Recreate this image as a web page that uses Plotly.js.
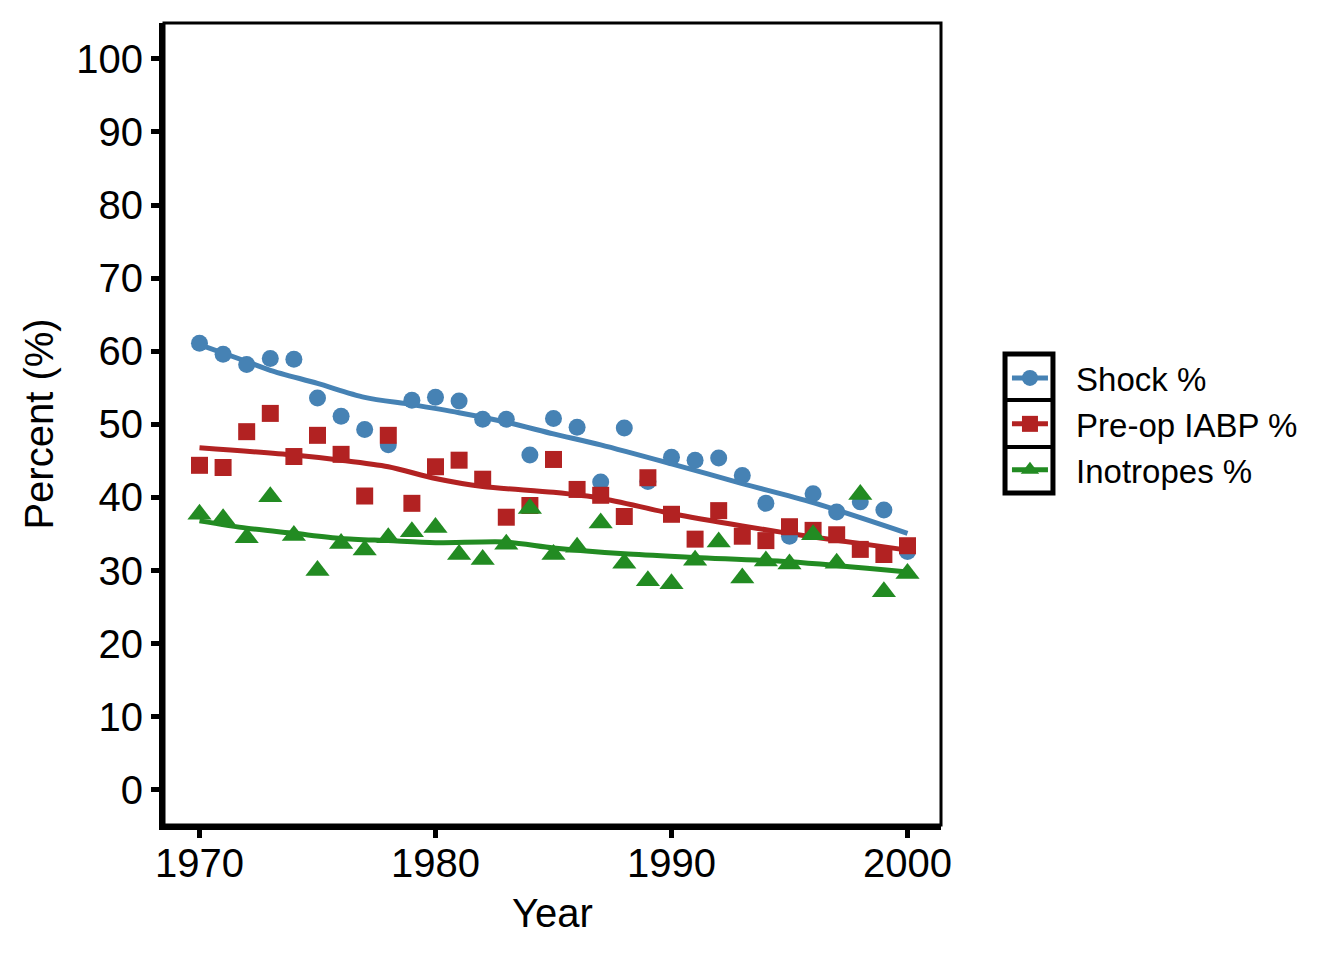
<!DOCTYPE html>
<html>
<head>
<meta charset="utf-8">
<script src="https://cdn.plot.ly/plotly-3.0.1.min.js"></script>
<style>html,body{margin:0;padding:0;background:#fff;}#chart{width:1344px;height:960px;}</style>
</head>
<body>
<div id="chart"></div>
<script>
var years = [1970,1971,1972,1973,1974,1975,1976,1977,1978,1979,1980,1981,1982,1983,1984,1985,1986,1987,1988,1989,1990,1991,1992,1993,1994,1995,1996,1997,1998,1999,2000];
var shock = [61.1,59.6,58.2,59.0,58.9,53.6,51.1,49.3,47.2,53.3,53.7,53.2,50.7,50.7,45.8,50.8,49.6,42.1,49.5,42.2,45.5,45.1,45.4,43.0,39.2,34.7,40.5,38.0,39.4,38.3,32.6];
var iabp = [44.4,44.1,49.0,51.5,45.6,48.5,45.9,40.2,48.5,39.2,44.2,45.1,42.5,37.3,38.9,45.2,41.1,40.3,37.4,42.7,37.7,34.3,38.2,34.7,34.1,36.0,35.5,34.9,32.9,32.2,33.4];
var inotropes = [37.7,37.1,34.5,40.1,34.8,30.0,33.7,32.8,34.5,35.3,35.9,32.2,31.5,33.6,38.5,32.2,33.2,36.5,31.0,28.6,28.2,31.4,33.9,29.0,31.3,30.9,34.9,31.0,40.4,27.1,29.6];

var shockFitYears = [1970,1972,1973,1975,1977,1979,1981,1983,1985,1987,1990,1993,1996,2000];
var shockFit = [60.9,58.6,57.4,55.6,53.7,52.7,51.6,50.3,48.7,47.2,44.6,41.9,39.3,35.1];
var iabpFitYears = [1970,1974,1976,1978,1980,1982,1985,1987,1990,1993,1996,2000];
var iabpFit = [46.8,45.8,45.1,44.2,42.6,41.5,40.7,39.9,37.8,36.1,34.6,32.8];
var inoFitYears = [1970,1972,1974,1976,1978,1980,1983,1985,1988,1991,1995,2000];
var inoFit = [36.8,35.8,35.1,34.4,34.1,33.8,33.9,33.1,32.3,31.8,31.2,29.8];

var seriesNames = ['Shock %','Pre-op IABP %','Inotropes %'];
var xTicks = [1970,1980,1990,2000];
var yTicks = [0,10,20,30,40,50,60,70,80,90,100];

var colors = ['#4682B4','#B22222','#228B22'];
var symbols = ['circle','square','triangle-up'];
var sizes = [17,17,21];
var FONT = 'Liberation Sans, Arial, Helvetica, sans-serif';
var LEGEND_PAD = '\u2002\u2009'; // gap between key box and label

var pts = [shock, iabp, inotropes];
var fitX = [shockFitYears, iabpFitYears, inoFitYears];
var fitY = [shockFit, iabpFit, inoFit];

var traces = [];
for (var i = 0; i < 3; i++) {
  traces.push({x: fitX[i], y: fitY[i], type: 'scatter', mode: 'lines',
    line: {color: colors[i], width: 5, shape: 'spline', smoothing: 0.8},
    showlegend: false, hoverinfo: 'skip'});
}
for (var i = 0; i < 3; i++) {
  traces.push({x: years, y: pts[i], type: 'scatter', mode: 'markers',
    marker: {color: colors[i], symbol: symbols[i], size: sizes[i], line: {width: 0}},
    name: seriesNames[i], showlegend: false});
}
for (var i = 0; i < 3; i++) {
  traces.push({x: [null], y: [null], type: 'scatter', mode: 'lines+markers',
    line: {color: colors[i], width: 5},
    marker: {color: colors[i], symbol: symbols[i], size: sizes[i], line: {width: 0}},
    name: LEGEND_PAD + seriesNames[i], legendgroup: 'g' + i, showlegend: true});
}

// legend key frame (paper coordinates)
var kx0 = 1.0824, kx1 = 1.1441;
var keyEdges = [0.5873, 0.5299, 0.4713, 0.4140];

var layout = {
  width: 1344, height: 960,
  margin: {l: 164, r: 403, t: 23, b: 135},
  paper_bgcolor: '#fff', plot_bgcolor: '#fff',
  font: {family: FONT, color: '#000'},
  showlegend: true,
  legend: {x: 1.0849, xanchor: 'left', y: 0.5, yanchor: 'middle',
    font: {family: FONT, size: 33, color: '#000'},
    traceorder: 'grouped', tracegroupgap: 0,
    itemwidth: 36, bgcolor: 'rgba(0,0,0,0)', borderwidth: 0},
  xaxis: {range: [1968.496, 2001.42], tickvals: xTicks, ticktext: xTicks.map(String),
    ticks: 'outside', ticklen: 8, tickwidth: 5, tickcolor: '#000',
    showline: true, linewidth: 5, linecolor: '#000', mirror: false,
    showgrid: false, zeroline: false, ticklabelstandoff: -9,
    tickfont: {family: FONT, size: 40, color: '#000'},
    title: {text: 'Year', font: {family: FONT, size: 40, color: '#000'}, standoff: 16}},
  yaxis: {range: [-4.8, 104.9], tickvals: yTicks, ticktext: yTicks.map(String),
    ticks: 'outside', ticklen: 8, tickwidth: 5, tickcolor: '#000',
    showline: true, linewidth: 5, linecolor: '#000', mirror: false,
    showgrid: false, zeroline: false,
    tickfont: {family: FONT, size: 40, color: '#000'},
    title: {text: 'Percent (%)', font: {family: FONT, size: 40, color: '#000'}, standoff: 12}},
  shapes: [
    {type: 'rect', xref: 'paper', yref: 'paper', x0: 0, x1: 1, y0: 0, y1: 1,
     line: {color: '#000', width: 3}, layer: 'above'},
    {type: 'rect', xref: 'paper', yref: 'paper', x0: kx0, x1: kx1, y0: keyEdges[3], y1: keyEdges[0],
     line: {color: '#000', width: 5}, layer: 'above'},
    {type: 'line', xref: 'paper', yref: 'paper', x0: kx0, x1: kx1, y0: keyEdges[1], y1: keyEdges[1],
     line: {color: '#000', width: 4}, layer: 'above'},
    {type: 'line', xref: 'paper', yref: 'paper', x0: kx0, x1: kx1, y0: keyEdges[2], y1: keyEdges[2],
     line: {color: '#000', width: 4}, layer: 'above'}
  ]
};

Plotly.newPlot('chart', traces, layout, {displayModeBar: false, staticPlot: true});
</script>
</body>
</html>
